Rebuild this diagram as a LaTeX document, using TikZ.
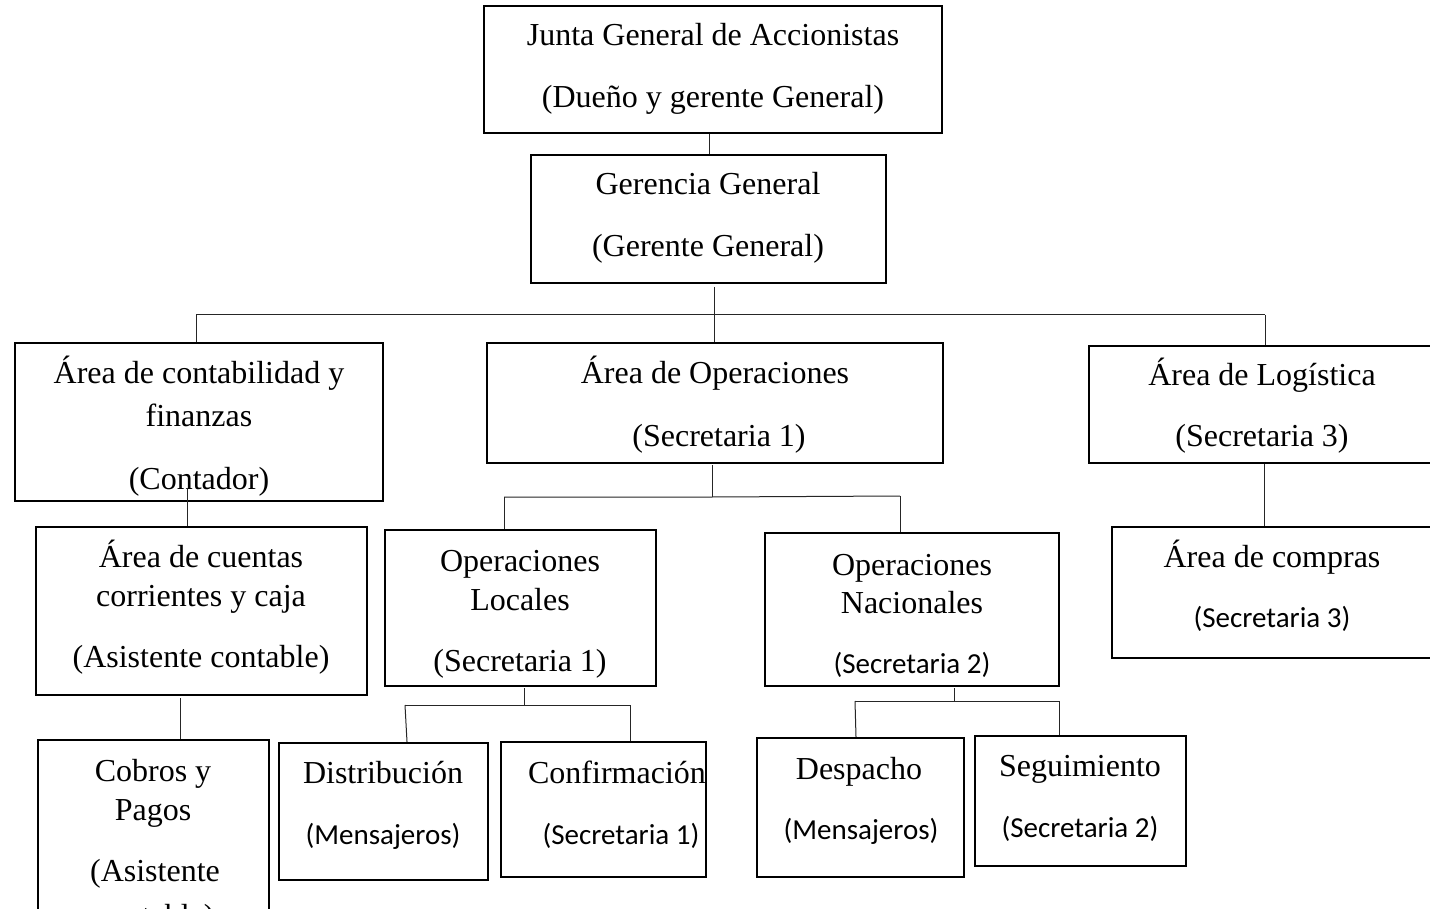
\documentclass[tikz,border=0pt]{standalone}
\usepackage{fontspec}
\setmainfont{Liberation Serif}
\newfontfamily\calibrifont{Carlito}

% orgbox{name}{x1}{y1}{x2}{y2}: an empty frame whose corners are given
\newcommand\orgbox[5]{%
  \node[unitbox, minimum width={(#4-#2)*1pt}, minimum height={(#5-#3)*1pt}]
    (#1) at ({(#2+#4)/2},{(#3+#5)/2}) {};}

\begin{document}
\begin{tikzpicture}[x=1pt, y=-1pt,
  unitbox/.style={draw=black, line width=2.4pt, inner sep=0pt, rectangle},
  link/.style={draw=black!85, line width=1pt},
  lbl/.style={anchor=base, inner sep=0pt, font=\fontsize{32}{38}\selectfont},
  lblsans/.style={anchor=base, inner sep=0pt, font=\calibrifont\fontsize{29}{35}\selectfont}]

\useasboundingbox (0,0) rectangle (1430,909);
\fill[white] (0,0) rectangle (1430,909);
\clip (0,0) rectangle (1430,909);

% ---- frames ----
\orgbox{junta}{484}{6}{942}{133}
\orgbox{ger}{531}{155}{886}{283}
\orgbox{cont}{15}{343}{383}{501}
\orgbox{oper}{487}{343}{943}{463}
\orgbox{logi}{1089}{346}{1450}{463}
\orgbox{cuen}{36}{527}{367}{695}
\orgbox{opl}{385}{530}{656}{686}
\orgbox{opn}{765}{533}{1059}{686}
\orgbox{comp}{1112}{527}{1450}{658}
\orgbox{cobr}{38}{740}{269}{940}
\orgbox{dist}{279}{743}{488}{880}
\orgbox{conf}{501}{742}{706}{877}
\orgbox{desp}{757}{738}{964}{877}
\orgbox{segu}{975}{736}{1186}{866}

% ---- labels ----
\node[lbl] (junta-a) at (713,46)  {Junta General de Accionistas};
\node[lbl] (junta-b) at (713,108) {(Dueño y gerente General)};
\node[lbl] (ger-a)   at (708,195) {Gerencia General};
\node[lbl] (ger-b)   at (708,257) {(Gerente General)};

\node[lbl] (cont-a)  at (199,383) {Área de contabilidad y};
\node[lbl] (cont-b)  at (199,426) {finanzas};
\node[lbl] (cont-c)  at (199,489) {(Contador)};

\node[lbl] (oper-a)  at (715,384) {Área de Operaciones};
\node[lbl] (oper-b)  at (719,446) {(Secretaria 1)};

\node[lbl] (logi-a)  at (1262,385) {Área de Logística};
\node[lbl] (logi-b)  at (1262,446) {(Secretaria 3)};

\node[lbl] (cuen-a)  at (201,567) {Área de cuentas};
\node[lbl] (cuen-b)  at (201,606) {corrientes y caja};
\node[lbl] (cuen-c)  at (201,667) {(Asistente contable)};

\node[lbl] (opl-a)   at (520,571) {Operaciones};
\node[lbl] (opl-b)   at (520,610) {Locales};
\node[lbl] (opl-c)   at (520,671) {(Secretaria 1)};

\node[lbl] (opn-a)   at (912,575) {Operaciones};
\node[lbl] (opn-b)   at (912,613) {Nacionales};
\node[lblsans] (opn-c) at (912,673) {(Secretaria 2)};

\node[lbl] (comp-a)  at (1272,567) {Área de compras};
\node[lblsans] (comp-b) at (1272,627) {(Secretaria 3)};

\node[lbl] (cobr-a)  at (153,781) {Cobros y};
\node[lbl] (cobr-b)  at (153,820) {Pagos};
\node[lbl] (cobr-c)  at (155,881) {(Asistente};
\node[lbl] (cobr-d)  at (155,926) {contable)};

\node[lbl] (dist-a)  at (383,783) {Distribución};
\node[lblsans] (dist-b) at (383,844) {(Mensajeros)};

\node[lbl] (conf-a)  at (617,783) {Confirmación};
\node[lblsans] (conf-b) at (621,844) {(Secretaria 1)};

\node[lbl] (desp-a)  at (859,779) {Despacho};
\node[lblsans] (desp-b) at (861,839) {(Mensajeros)};

\node[lbl] (segu-a)  at (1080,776) {Seguimiento};
\node[lblsans] (segu-b) at (1080,837) {(Secretaria 2)};

% ---- junction points ----
\coordinate (ger-out)  at (714,287);
\coordinate (bus1-l)   at (196,315);
\coordinate (bus1-m)   at (714,315);
\coordinate (bus1-r)   at (1265,315);

\coordinate (cont-out) at (187,488);
\coordinate (cuen-out) at (180,698);

\coordinate (oper-out) at (712,465);
\coordinate (bus2-l)   at (504,497);
\coordinate (bus2-m)   at (712,497);
\coordinate (bus2-r)   at (900,496);

\coordinate (opl-out)  at (524,688);
\coordinate (bus3-l)   at (405,705);
\coordinate (bus3-m)   at (524,705);
\coordinate (bus3-r)   at (630,705);

\coordinate (opn-out)  at (954,688);
\coordinate (bus4-l)   at (855,701);
\coordinate (bus4-m)   at (954,701);
\coordinate (bus4-r)   at (1059,701);

% ---- connectors ----
\draw[link] (junta.south -| 709,0) -- (ger.north -| 709,0);

\draw[link] (ger-out) -- (bus1-m);
\draw[link] (bus1-l) -- (bus1-r);
\draw[link] (bus1-l) -- (bus1-l |- cont.north);
\draw[link] (bus1-m) -- (bus1-m |- oper.north);
\draw[link] (bus1-r) -- (bus1-r |- logi.north);

\draw[link] (cont-out) -- (cont-out |- cuen.north);
\draw[link] (cuen-out) -- (cuen-out |- cobr.north);

\draw[link] (oper-out) -- (bus2-m);
\draw[link] (bus2-l) -- (bus2-m) -- (bus2-r);
\draw[link] (bus2-l) -- (bus2-l |- opl.north);
\draw[link] (bus2-r) -- (bus2-r |- opn.north);

\draw[link] (logi.south -| 1264,0) -- (comp.north -| 1264,0);

\draw[link] (opl-out) -- (bus3-m);
\draw[link] (bus3-l) -- (bus3-r);
\draw[link] (bus3-l) -- ([xshift=2pt]bus3-l |- dist.north);
\draw[link] (bus3-r) -- (bus3-r |- conf.north);

\draw[link] (opn-out) -- (bus4-m);
\draw[link] (bus4-l) -- (bus4-r);
\draw[link] (bus4-l) -- ([xshift=1pt]bus4-l |- desp.north);
\draw[link] (bus4-r) -- (bus4-r |- segu.north);
\end{tikzpicture}
\end{document}
